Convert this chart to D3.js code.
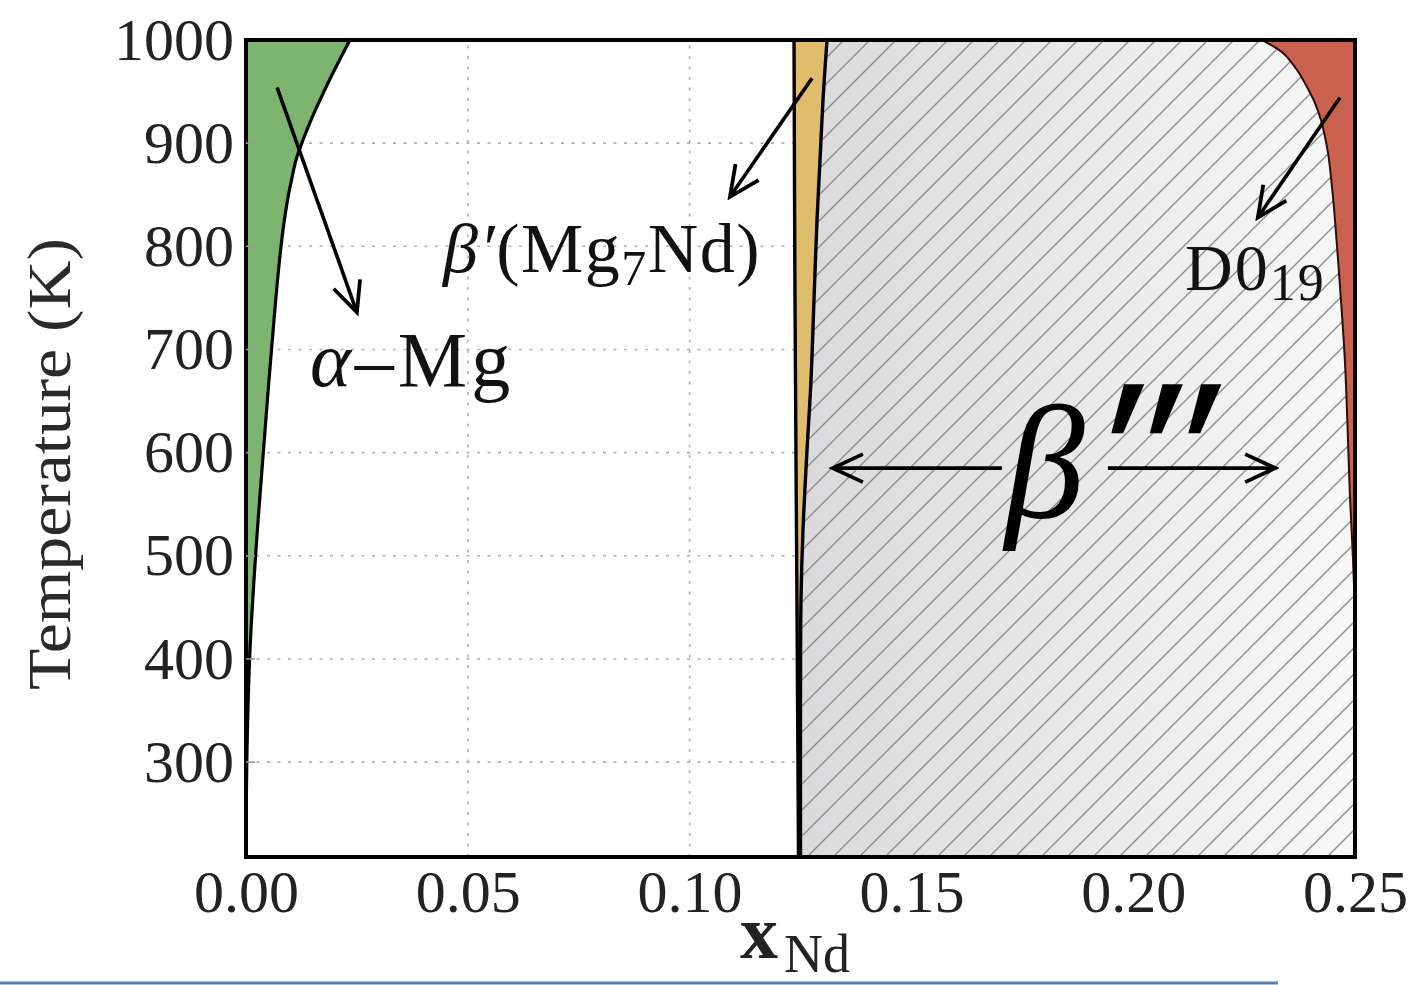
<!DOCTYPE html>
<html><head><meta charset="utf-8">
<script src="https://cdn.jsdelivr.net/npm/d3@7"></script>
<style>body{margin:0;background:#fff;} svg{display:block;}</style>
</head><body>
<svg id="chart" width="1412" height="985"></svg>
<script>
// ---------- data ----------
const xTicks = [0, 0.05, 0.10, 0.15, 0.20, 0.25];
const xTickLabels = ["0.00", "0.05", "0.10", "0.15", "0.20", "0.25"];
const yTicks = [300, 400, 500, 600, 700, 800, 900, 1000];
const yTickLabels = ["300", "400", "500", "600", "700", "800", "900", "1000"];

// alpha-Mg solvus (x_Nd vs T)
const alphaT = [1000, 980.6, 961.2, 941.8, 922.4, 903.1, 883.7, 864.3, 844.9, 815.8, 777.0, 728.6, 670.4, 602.5, 505.6, 408.7, 311.7, 208];
const alphaX = [0.02344, 0.02108, 0.01882, 0.01668, 0.01465, 0.01285, 0.01127, 0.01026, 0.00936, 0.00834, 0.00733, 0.00631, 0.00518, 0.00394, 0.00225, 0.0009, 0.00023, 0.0];

// beta' (Mg7Nd) left and right boundaries
const betaPLeftT = [1000, 748, 457, 208];
const betaPLeftX = [0.12354, 0.12376, 0.12420, 0.12455];
const betaPRightT = [1000, 941.8, 883.7, 825.5, 748.0, 670.4, 602.5, 525.0, 457.2, 360.2, 208];
const betaPRightX = [0.13097, 0.13007, 0.12940, 0.12872, 0.12804, 0.12737, 0.12647, 0.12556, 0.12511, 0.12500, 0.12500];

// D0_19 boundary
const d019T = [1000, 987.4, 970.9, 954.4, 938.9, 922.4, 890.5, 857.5, 825.5, 760.6, 686.9, 557.0, 495.9, 437.7, 321, 208];
const d019X = [0.22904, 0.23377, 0.23693, 0.23918, 0.24098, 0.24233, 0.24391, 0.24481, 0.24549, 0.24662, 0.24775, 0.24887, 0.24955, 0.25, 0.25, 0.25];

// annotation arrows [x0, T0, x1, T1] (data units)
const arrowAlpha = [0.0070, 954, 0.0250, 736];
const arrowBetaP = [0.1276, 963, 0.1091, 848];
const arrowD019 = [0.2466, 944, 0.2281, 828];
const arrowB3Left = [0.1704, 585, 0.1323, 585];
const arrowB3Right = [0.1943, 585, 0.2320, 585];

// ---------- setup ----------
const svg = d3.select("#chart");
const x = d3.scaleLinear().domain([0, 0.25]).range([246, 1355]);
const y = d3.scaleLinear().domain([208, 1000]).range([857, 40]);
const serif = "'Liberation Serif', 'DejaVu Serif', serif";

const defs = svg.append("defs");
const grad = defs.append("linearGradient").attr("id", "grayGrad")
  .attr("gradientUnits", "userSpaceOnUse")
  .attr("x1", x(0.125)).attr("x2", x(0.25)).attr("y1", 0).attr("y2", 0);
grad.append("stop").attr("offset", 0).attr("stop-color", "#dadadc");
grad.append("stop").attr("offset", 0.6).attr("stop-color", "#ececec");
grad.append("stop").attr("offset", 1).attr("stop-color", "#f8f8f8");

const pat = defs.append("pattern").attr("id", "hatch")
  .attr("patternUnits", "userSpaceOnUse").attr("width", 26).attr("height", 26);
pat.append("path").attr("d", "M-2,28 L28,-2 M-15,15 L15,-15 M11,41 L41,11")
  .attr("stroke", "#888").attr("stroke-width", 1.3).attr("fill", "none");

const marker = defs.append("marker").attr("id", "head")
  .attr("markerUnits", "userSpaceOnUse").attr("viewBox", "-34 -18 38 36")
  .attr("markerWidth", 38).attr("markerHeight", 36)
  .attr("refX", 0).attr("refY", 0).attr("orient", "auto");
marker.append("path").attr("d", "M-30,-14 L0,0 L-30,14")
  .attr("fill", "none").attr("stroke", "#000").attr("stroke-width", 3.8)
  .attr("stroke-linejoin", "miter");

// ---------- grid ----------
const grid = svg.append("g");
yTicks.filter(t => t < 1000).forEach(t => {
  grid.append("line").attr("x1", x(0)).attr("x2", x(0.25)).attr("y1", y(t)).attr("y2", y(t))
    .attr("stroke", "#b0b0b0").attr("stroke-width", 1.6).attr("stroke-dasharray", "3,7.5");
});
xTicks.filter(t => t > 0 && t < 0.25).forEach(t => {
  grid.append("line").attr("x1", x(t)).attr("x2", x(t)).attr("y1", y(208)).attr("y2", y(1000))
    .attr("stroke", "#b0b0b0").attr("stroke-width", 1.6).attr("stroke-dasharray", "3,7.5");
});

// ---------- regions ----------
const pts = (X, T) => X.map((v, i) => [v, T[i]]);
const lineXY = d3.line().x(d => x(d[0])).y(d => y(d[1])).curve(d3.curveCatmullRom.alpha(0.5));

const alphaPts = pts(alphaX, alphaT);
const bLeftPts = pts(betaPLeftX, betaPLeftT);
const bRightPts = pts(betaPRightX, betaPRightT);
const dPts = pts(d019X, d019T);

// hatched beta''' region
const hatchD = lineXY(bRightPts) + "L" + lineXY(dPts.slice().reverse()).slice(1) + "Z";
svg.append("path").attr("d", hatchD).attr("fill", "url(#grayGrad)");
svg.append("path").attr("d", hatchD).attr("fill", "url(#hatch)");

// alpha-Mg (green)
const alphaD = lineXY(alphaPts) + `L${x(0)},${y(208)}L${x(0)},${y(1000)}Z`;
svg.append("path").attr("d", alphaD).attr("fill", "#7db46f");

// beta' (yellow)
const betaD = lineXY(bLeftPts) + "L" + lineXY(bRightPts.slice().reverse()).slice(1) + "Z";
svg.append("path").attr("d", betaD).attr("fill", "#e0bd6d");

// D0_19 (red)
const redD = lineXY(dPts) + `L${x(0.25)},${y(208)}L${x(0.25)},${y(1000)}Z`;
svg.append("path").attr("d", redD).attr("fill", "#c9614f");

// boundaries
svg.append("path").attr("d", lineXY(alphaPts)).attr("fill", "none").attr("stroke", "#000").attr("stroke-width", 3.2);
svg.append("path").attr("d", lineXY(bLeftPts)).attr("fill", "none").attr("stroke", "#000").attr("stroke-width", 3.4);
svg.append("path").attr("d", lineXY(bRightPts)).attr("fill", "none").attr("stroke", "#000").attr("stroke-width", 3.4);
svg.append("path").attr("d", lineXY(dPts)).attr("fill", "none").attr("stroke", "#2a0e08").attr("stroke-width", 2);

// ---------- frame & axes ----------
svg.append("rect").attr("x", x(0)).attr("y", y(1000))
  .attr("width", x(0.25) - x(0)).attr("height", y(208) - y(1000))
  .attr("fill", "none").attr("stroke", "#000").attr("stroke-width", 4);

const yAxis = svg.append("g").attr("transform", `translate(${x(0)},0)`)
  .call(d3.axisLeft(y).tickValues(yTicks).tickFormat((d, i) => yTickLabels[i]).tickSize(0).tickPadding(12));
yAxis.select(".domain").remove();
yAxis.selectAll("text").attr("font-family", serif).attr("font-size", 60).attr("fill", "#222");

const xAxis = svg.append("g").attr("transform", `translate(0,${y(208)})`)
  .call(d3.axisBottom(x).tickValues(xTicks).tickFormat((d, i) => xTickLabels[i]).tickSize(0).tickPadding(12));
xAxis.select(".domain").remove();
xAxis.selectAll("text").attr("font-family", serif).attr("font-size", 60).attr("fill", "#222");

// inward tick marks
yTicks.filter(t => t < 1000).forEach(t => {
  svg.append("line").attr("x1", x(0)).attr("x2", x(0) + 9).attr("y1", y(t)).attr("y2", y(t))
    .attr("stroke", "#999").attr("stroke-width", 1.6);
});

// axis titles
svg.append("text").attr("transform", `translate(70,${464}) rotate(-90)`)
  .attr("text-anchor", "middle").attr("font-family", serif).attr("font-size", 62)
  .attr("fill", "#2a2a2a").attr("textLength", 452).attr("lengthAdjust", "spacingAndGlyphs")
  .text("Temperature (K)");

const xl = svg.append("text").attr("x", 740).attr("y", 958).attr("font-family", serif).attr("fill", "#222");
xl.append("tspan").attr("font-size", 76).attr("font-weight", "bold").text("x");
xl.append("tspan").attr("font-size", 54).attr("dy", 14).attr("dx", 6).text("Nd");

// ---------- annotations ----------
function arrow(a) {
  svg.append("line").attr("x1", x(a[0])).attr("y1", y(a[1])).attr("x2", x(a[2])).attr("y2", y(a[3]))
    .attr("stroke", "#000").attr("stroke-width", 3.6).attr("marker-end", "url(#head)");
}
[arrowAlpha, arrowBetaP, arrowD019, arrowB3Left, arrowB3Right].forEach(arrow);

const tA = svg.append("text").attr("x", x(0.0144)).attr("y", y(665)).attr("font-family", serif)
  .attr("font-size", 78).attr("letter-spacing", 4).attr("fill", "#111");
tA.append("tspan").attr("font-style", "italic").text("α");
tA.append("tspan").text("–Mg");

const tB = svg.append("text").attr("x", x(0.0444)).attr("y", y(775)).attr("font-family", serif)
  .attr("font-size", 70).attr("letter-spacing", 1.5).attr("fill", "#111");
tB.append("tspan").attr("font-style", "italic").text("β′");
tB.append("tspan").text("(Mg");
tB.append("tspan").attr("font-size", 50).attr("dy", 13).text("7");
tB.append("tspan").attr("dy", -13).text("Nd)");

const tD = svg.append("text").attr("x", x(0.2117)).attr("y", y(758)).attr("font-family", serif)
  .attr("font-size", 66).attr("letter-spacing", 2).attr("fill", "#111");
tD.append("tspan").text("D0");
tD.append("tspan").attr("font-size", 52).attr("dy", 10).text("19");

// beta''' label: beta plus stretched triple prime
svg.append("text").attr("x", x(0.1711)).attr("y", y(538)).attr("font-family", serif)
  .attr("font-size", 160).attr("font-style", "italic").attr("fill", "#000").text("β");
svg.append("g").attr("transform", `translate(${x(0.1944)},581) scale(1,1.8)`)
  .append("text").attr("x", 0).attr("y", 0)
  .attr("font-family", "'DejaVu Sans', sans-serif").attr("font-weight", "bold")
  .attr("font-size", 150).attr("letter-spacing", -1).attr("fill", "#000").text("′′′");

// decorative bottom rule (present in reference image)
svg.append("line").attr("x1", 0).attr("x2", 1278).attr("y1", 983).attr("y2", 983)
  .attr("stroke", "#4f81bd").attr("stroke-width", 3);
</script>
</body></html>
